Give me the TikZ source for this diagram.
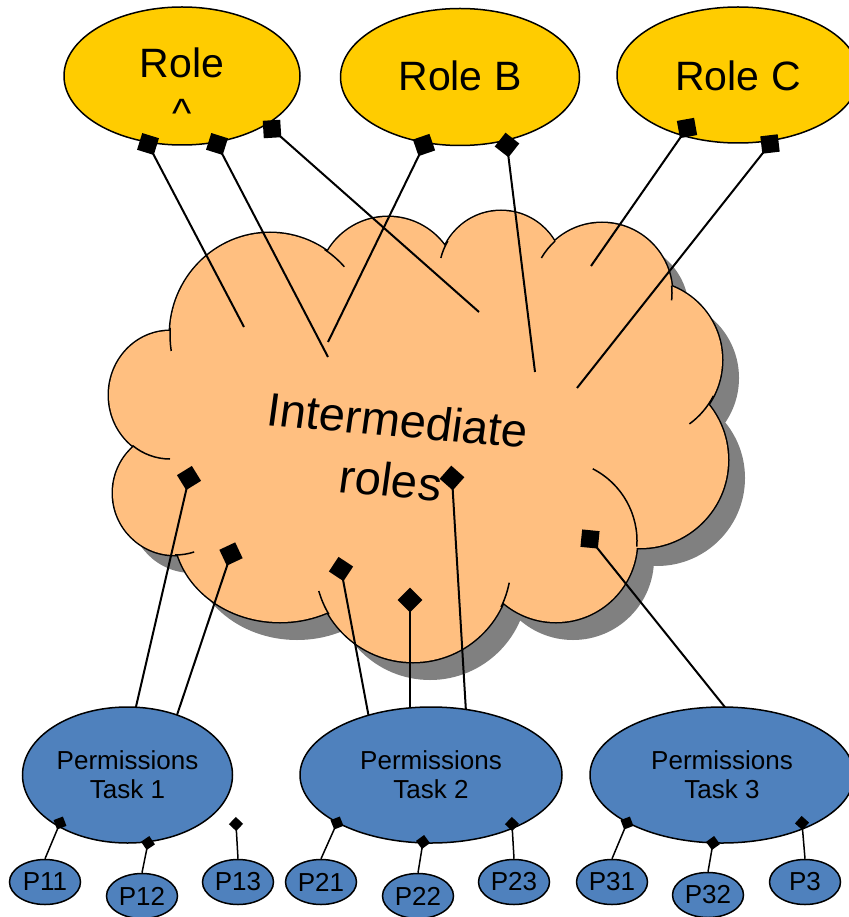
\documentclass[tikz,border=0pt]{standalone}
\usepackage{fontspec}
\setmainfont{Liberation Sans}
\usetikzlibrary{shapes.geometric}
\definecolor{roleyellow}{HTML}{FFCC00}
\definecolor{cloudorange}{HTML}{FFBF80}
\definecolor{taskblue}{HTML}{4F81BD}
\definecolor{shadowgray}{HTML}{808080}

\begin{document}
\begin{tikzpicture}[x=1pt,y=1pt,
  role/.style={ellipse, draw, line width=1.5pt, fill=roleyellow, inner sep=0pt},
  task/.style={ellipse, draw, line width=1.5pt, fill=taskblue, inner sep=0pt,
    minimum height=136pt, align=center, font=\fontsize{26}{29}\selectfont},
  perm/.style={ellipse, draw, line width=1.5pt, fill=taskblue, inner sep=0pt,
    minimum width=71pt, minimum height=45pt, font=\fontsize{26}{30}\selectfont},
  rolefont/.style={font=\fontsize{41}{49}\selectfont},
  cloudtext/.style={font=\fontsize{47}{54}\selectfont, inner sep=0pt, rotate=-5, xslant=0.05},
  conn/.style={line width=2pt},
  thinconn/.style={line width=1.5pt},
  bigmark/.style={rectangle, fill=black, inner sep=0pt, minimum size=17.5pt},
  smallmark/.style={rectangle, fill=black, inner sep=0pt, minimum size=10pt},
  frag/.style={line width=1.5pt},
  cloudbumps/.style={insert path={
    (270,-335) ellipse [x radius=100, y radius=102]
    (388,-287) circle [radius=70]
    (501,-273) circle [radius=62]
    (602,-293) circle [radius=70]
    (643,-360) circle [radius=79]
    (640,-460) circle [radius=88]
    (556,-541) circle [radius=81]
    (413,-564) circle [radius=98]
    (280,-530) ellipse [x radius=106, y radius=92]
    (175,-493) circle [radius=62]
    (170,-395) ellipse [x radius=61, y radius=64]}},
  cloudcore/.style={insert path={
    (270,-335) -- (170,-395) -- (175,-493) -- (280,-530) -- (413,-564)
    -- (556,-541) -- (640,-460) -- (643,-360) -- (602,-293) -- (501,-273)
    -- (388,-287) -- cycle}},
]
\useasboundingbox (0,0) rectangle (848,-917);

% ---- cloud of intermediate roles: shadow, outline, fill, inner arcs
\fill[shadowgray, shift={(17,-18)}, cloudbumps];
\fill[shadowgray, shift={(17,-18)}, cloudcore];
\draw[line width=3pt, cloudbumps];
\fill[cloudorange, cloudbumps];
\fill[cloudorange, cloudcore];
\draw[frag] (270,-335) ++(176:100 and 102) arc[start angle=176, end angle=189, x radius=100, y radius=102];
\draw[frag] (270,-335) ++(57:100 and 102) arc[start angle=57, end angle=42, x radius=100, y radius=102];
\draw[frag] (501,-273) ++(149:62) arc[start angle=149, end angle=166, radius=62];
\draw[frag] (602,-293) ++(132:70) arc[start angle=132, end angle=150, radius=70];
\draw[frag] (602,-293) ++(6:70) arc[start angle=6, end angle=-6, radius=70];
\draw[frag] (643,-360) ++(-27:79) arc[start angle=-27, end angle=-54, radius=79];
\draw[frag] (556,-541) ++(63:81) arc[start angle=63, end angle=-4, radius=81];
\draw[frag] (413,-564) ++(-26:98) arc[start angle=-26, end angle=-11, radius=98];
\draw[frag] (413,-564) ++(211:98) arc[start angle=211, end angle=196, radius=98];
\draw[frag] (175,-493) ++(-90:62) arc[start angle=-90, end angle=-72, radius=62];
\draw[frag] (170,-395) ++(232:61 and 64) arc[start angle=232, end angle=270, x radius=61, y radius=64];

\node[cloudtext] (imtxt1) at (398,-420) {Intermediate};
\node[cloudtext] (imtxt2) at (391,-480) {roles};

% ---- roles
\node[role, minimum width=236pt, minimum height=138pt] (roleA) at (182,-76) {};
\node[role, minimum width=239pt, minimum height=137pt] (roleB) at (460,-77) {};
\node[role, minimum width=242pt, minimum height=136pt] (roleC) at (738,-75) {};
\node[rolefont, anchor=base] (roleAtxt) at (182,-78) {Role};
\node[rolefont, anchor=base] (roleAcaret) at (182,-128) {\textasciicircum};
\node[rolefont, anchor=base] (roleBtxt) at (460,-91) {Role B};
\node[rolefont, anchor=base] (roleCtxt) at (738,-91) {Role C};

% ---- markers on the roles (diamonds turned along their links)
\node[bigmark, rotate=-17.3] (mA1) at (148,-144) {};
\node[bigmark, rotate=-17.5] (mA2) at (217,-144) {};
\node[bigmark, rotate=3.5]   (mA3) at (272,-129) {};
\node[bigmark, rotate=19]    (mB1) at (424,-145) {};
\node[bigmark, rotate=52]    (mB2) at (507,-145) {};
\node[bigmark, rotate=10.2]  (mC1) at (687,-128) {};
\node[bigmark, rotate=6.7]   (mC2) at (770,-144) {};

% ---- markers inside the cloud
\node[bigmark, rotate=31.7] (mI1) at (189,-478) {};
\node[bigmark, rotate=25.2] (mI2) at (231,-554) {};
\node[bigmark, rotate=56.5] (mI3) at (341,-569) {};
\node[bigmark, rotate=45]   (mI4) at (410,-600) {};
\node[bigmark, rotate=48.5] (mI5) at (452,-478) {};
\node[bigmark, rotate=-5.6] (mI6) at (590,-539) {};

% ---- free ends of the role links inside the cloud
\coordinate (e1) at (244,-327);
\coordinate (e2) at (328,-357);
\coordinate (e3) at (479,-312);
\coordinate (e4) at (328,-342);
\coordinate (e5) at (535,-372);
\coordinate (e6) at (591,-266);
\coordinate (e7) at (577,-388);

% ---- ends of the links on the task ellipses
\coordinate (t1a) at (135,-711);
\coordinate (t1b) at (176,-718);
\coordinate (t2a) at (369,-718);
\coordinate (t2b) at (410,-711);
\coordinate (t2c) at (466,-712);
\coordinate (t3a) at (728,-711);

\draw[conn] (mA1.center) -- (e1);
\draw[conn] (mA2.center) -- (e2);
\draw[conn] (mA3.center) -- (e3);
\draw[conn] (mB1.center) -- (e4);
\draw[conn] (mB2.center) -- (e5);
\draw[conn] (mC1.center) -- (e6);
\draw[conn] (mC2.center) -- (e7);
\draw[conn] (mI1.center) -- (t1a);
\draw[conn] (mI2.center) -- (t1b);
\draw[conn] (mI3.center) -- (t2a);
\draw[conn] (mI4.center) -- (t2b);
\draw[conn] (mI5.center) -- (t2c);
\draw[conn] (mI6.center) -- (t3a);

% ---- task ellipses
\node[task, minimum width=210pt] (task1) at (127.5,-775) {Permissions\\Task 1};
\node[task, minimum width=262pt] (task2) at (431,-775) {Permissions\\Task 2};
\node[task, minimum width=264pt] (task3) at (722,-775) {Permissions\\Task 3};

% ---- permissions
\node[perm] (p11) at (45,-882) {P11};
\node[perm] (p12) at (142,-896) {P12};
\node[perm] (p13) at (238,-882) {P13};
\node[perm] (p21) at (321,-882) {P21};
\node[perm] (p22) at (418,-896) {P22};
\node[perm] (p23) at (514,-882) {P23};
\node[perm] (p31) at (612,-882) {P31};
\node[perm] (p32) at (708,-895) {P32};
\node[perm] (p3)  at (805,-882) {P3};

% ---- small markers on the task ellipses
\node[smallmark, rotate=21]   (d11) at (60,-823) {};
\node[smallmark, rotate=34]   (d12) at (148,-843) {};
\node[smallmark, rotate=46.6] (d13) at (236,-824) {};
\node[smallmark, rotate=21.6] (d21) at (337,-823) {};
\node[smallmark, rotate=36.1] (d22) at (423,-842) {};
\node[smallmark, rotate=46.6] (d23) at (512,-824) {};
\node[smallmark, rotate=21]   (d31) at (627,-823) {};
\node[smallmark, rotate=35.8] (d32) at (713,-843) {};
\node[smallmark, rotate=48.2] (d3)  at (802,-823) {};

\draw[thinconn] (d11.center) -- (p11.north);
\draw[thinconn] (d12.center) -- (p12.north);
\draw[thinconn] (d13.center) -- (p13.north);
\draw[thinconn] (d21.center) -- (p21.north);
\draw[thinconn] (d22.center) -- (p22.north);
\draw[thinconn] (d23.center) -- (p23.north);
\draw[thinconn] (d31.center) -- (p31.north);
\draw[thinconn] (d32.center) -- (p32.north);
\draw[thinconn] (d3.center)  -- (p3.north);
\end{tikzpicture}
\end{document}
